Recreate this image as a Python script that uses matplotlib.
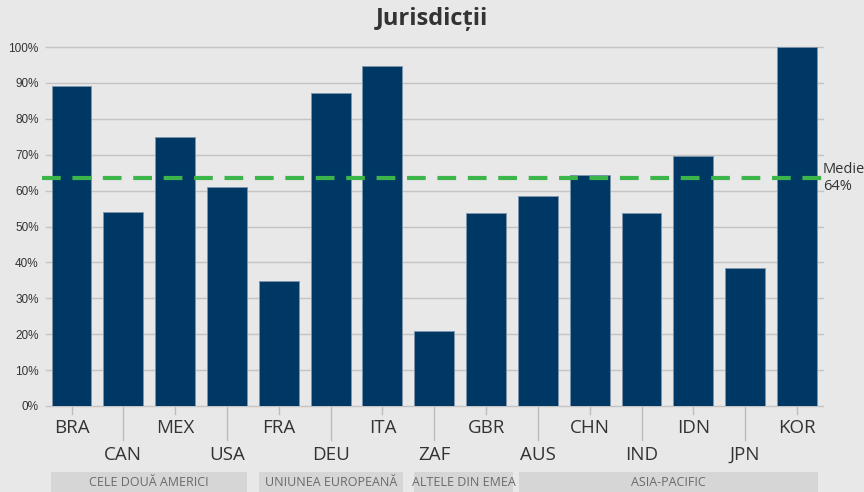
import matplotlib
matplotlib.use("Agg")
import matplotlib.pyplot as plt
from matplotlib.patches import Rectangle
from matplotlib.lines import Line2D
import matplotlib.transforms as mtrans

categories = ["BRA", "CAN", "MEX", "USA", "FRA", "DEU", "ITA", "ZAF", "GBR",
              "AUS", "CHN", "IND", "IDN", "JPN", "KOR"]
values = [89.1, 54.0, 74.9, 61.0, 34.8, 87.2, 94.7, 20.9, 53.8,
          58.5, 64.3, 53.8, 69.6, 38.4, 100.0]
median_value = 63.5
median_label = "Medie\n64%"
groups = ["CELE DOUĂ AMERICI", "UNIUNEA EUROPEANĂ", "ALTELE DIN EMEA", "ASIA-PACIFIC"]
yticks = [0, 10, 20, 30, 40, 50, 60, 70, 80, 90, 100]
title = "Jurisdicții"

W, H = 864, 492
bg = "#e8e8e8"
bar_color = "#003865"
fig = plt.figure(figsize=(W / 100, H / 100), dpi=100, facecolor=bg)
plt.rcParams['font.family'] = ['Open Sans', 'DejaVu Sans']

left, right, bottom, top = 45.6, 822.9, 406, 47
ax = fig.add_axes([left / W, 1 - bottom / H, (right - left) / W, (bottom - top) / H])
ax.set_facecolor(bg)

x = list(range(len(categories)))
ax.bar(x, values, width=0.77, color=bar_color, edgecolor="#7f95ad", linewidth=0.6, zorder=3)
ax.set_xlim(-0.5, len(categories) - 0.5)
ax.set_ylim(0, 100)
ax.set_yticks(yticks)
ax.set_yticklabels([f"{v}%" for v in yticks], fontsize=8.5, color="#333333",
                   family=['Liberation Sans Narrow', 'Liberation Sans', 'DejaVu Sans'])
ax.tick_params(axis='y', length=0, pad=5)
ax.set_xticks([])
ax.grid(axis='y', color="#c4c4c4", linewidth=1.0, zorder=0)
ax.set_axisbelow(True)
for s in ax.spines.values():
    s.set_visible(False)
for gl in ax.get_ygridlines():
    gl.set_clip_on(False)

# median line
ax.axhline(median_value, color="#3cb54a", linewidth=3, linestyle=(0, (4.5, 2.8)), zorder=4,
           clip_on=False, xmin=-0.005, xmax=1.0)
ax.text(1.0, median_value, median_label, transform=ax.get_yaxis_transform(),
        fontsize=10.5, color="#333333", va='center', ha='left', linespacing=1.15)

# ticks and category labels
trans = mtrans.blended_transform_factory(ax.transData, ax.transAxes)
hgt = bottom - top
for i, c in enumerate(categories):
    long = (i % 2 == 1)
    ylen = -34 / hgt if long else -8 / hgt
    ax.add_line(Line2D([i, i], [0, ylen], transform=trans, color="#bdbdbd", linewidth=1.0,
                       clip_on=False))
    ly = -49 / hgt if long else -22 / hgt
    ax.text(i, ly, c, transform=trans, ha='center', va='center', fontsize=13.5, color="#333333",
            clip_on=False)

# group bands
band_x = [(51, 247), (259, 403), (414, 513), (519, 818)]
for (x0, x1), g in zip(band_x, groups):
    fig.patches.append(Rectangle((x0 / W, 0), (x1 - x0) / W, 20 / H, transform=fig.transFigure,
                                 facecolor="#d6d6d6", edgecolor='none'))
    fig.text((x0 + x1) / 2 / W, 10 / H, g, ha='center', va='center', fontsize=9,
             color="#6a6a6a")

fig.text(432 / W, 1 - 19 / H, title, ha='center', va='center', fontsize=17, fontweight='bold',
         color="#333333")

fig.savefig("out.png", dpi=100, facecolor=bg)
